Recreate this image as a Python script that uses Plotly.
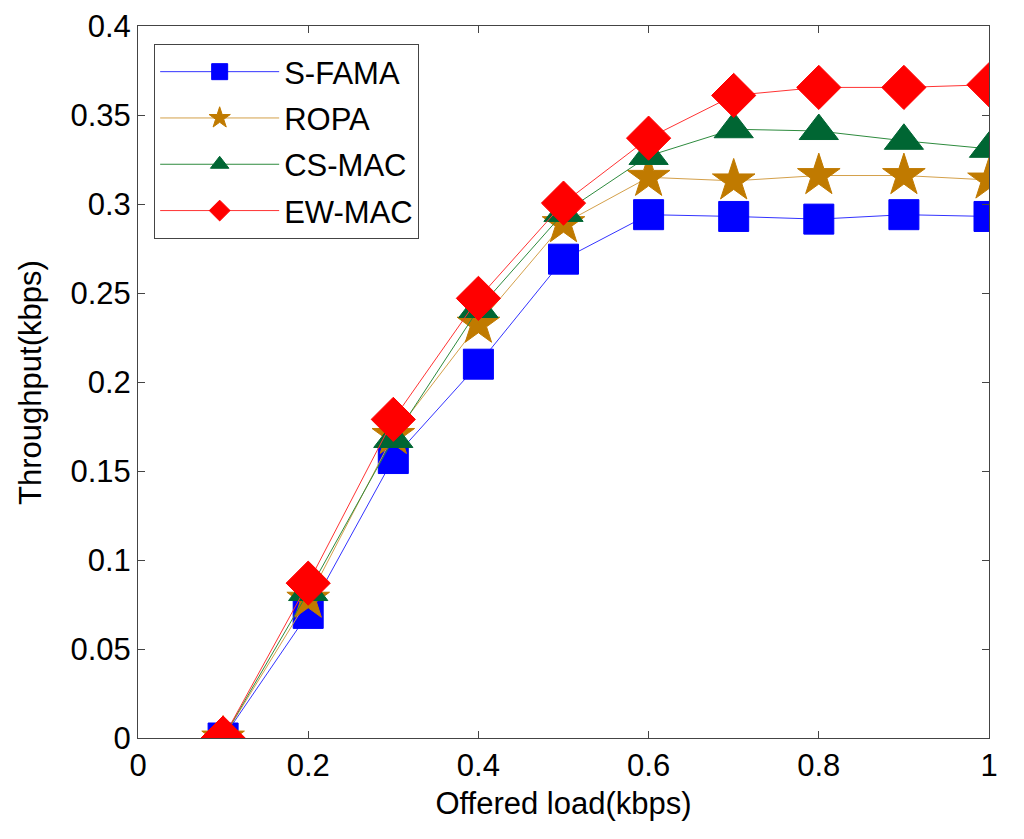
import plotly.graph_objects as go

load = [0.1, 0.2, 0.3, 0.4, 0.5, 0.6, 0.7, 0.8, 0.9, 1.0]

sfama = [0.0, 0.070, 0.157, 0.210, 0.269, 0.294, 0.293, 0.2915, 0.294, 0.293]
ropa = [0.0, 0.078, 0.170, 0.2325, 0.289, 0.315, 0.313, 0.316, 0.316, 0.3135]
csmac = [0.0, 0.082, 0.168, 0.241, 0.295, 0.327, 0.342, 0.341, 0.3355, 0.331]
ewmac = [0.0, 0.087, 0.179, 0.247, 0.3005, 0.337, 0.361, 0.3655, 0.3655, 0.367]

fig = go.Figure()

def addSeries(y, name, lineColor, markerColor, symbol, size):
    fig.add_trace(go.Scatter(
        x=load, y=y, name=name, legendgroup=name, mode="lines+markers",
        line=dict(color=lineColor, width=1),
        marker=dict(symbol=symbol, size=size, color=markerColor,
                    line=dict(color=markerColor, width=1)),
    ))

addSeries(sfama, "S-FAMA", "#3333FF", "#0000FF", "square", 30)
addSeries(ropa, "ROPA", "#D4A04A", "#C07A00", "star", 32)
addSeries(csmac, "CS-MAC", "#2E8B3E", "#006633", "triangle-up", 34)
addSeries(ewmac, "EW-MAC", "#FF3333", "#FF0000", "diamond", 34)

axisStyle = dict(
    showgrid=False, zeroline=False, showline=True, linecolor="#444444",
    linewidth=1, mirror="ticks", ticks="inside", ticklen=7, automargin=False,
    tickcolor="#444444", tickfont=dict(family="Liberation Sans, Arial", size=31, color="black"),
)

# page body adds 8px, so margins are shifted
fig.update_layout(
    width=1024, height=839,
    margin=dict(l=130, r=43, t=18, b=109),
    plot_bgcolor="white", paper_bgcolor="white",
    font=dict(family="Liberation Sans, Arial", color="black"),
    xaxis=dict(range=[0, 1], dtick=0.2, tick0=0,
               title=dict(text="Offered load(kbps)", font=dict(size=31), standoff=10),
               **axisStyle),
    yaxis=dict(range=[0, 0.4], dtick=0.05, tick0=0, **axisStyle),
    legend=dict(x=0.019, y=0.9747, xanchor="left", yanchor="top",
                bgcolor="white", bordercolor="#444444", borderwidth=1,
                font=dict(size=31), itemwidth=119, tracegroupgap=3),
    showlegend=True,
)

# y title placed further left than plotly's own title would go
fig.add_annotation(text="Throughput(kbps)", textangle=-90, showarrow=False,
                   xref="paper", yref="paper", x=-0.127, y=0.5,
                   xanchor="center", yanchor="middle", font=dict(size=31))

fig.write_html("out.html")
